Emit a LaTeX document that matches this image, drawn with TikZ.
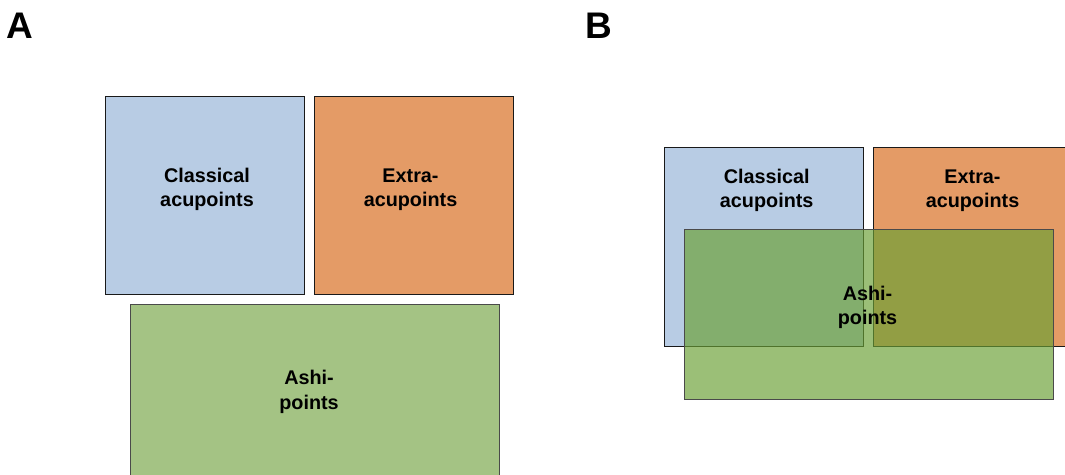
\documentclass[tikz,border=0pt]{standalone}
\usepackage{fontspec}
\setmainfont{Liberation Sans}
\begin{document}
\begin{tikzpicture}[x=1pt,y=-1pt,
  boxline/.style={draw=black!90,line width=1pt},
  lbl/.style={anchor=base,inner sep=0pt,font=\fontsize{19.8}{24}\selectfont\bfseries},
  panel/.style={anchor=base west,inner sep=0pt,font=\fontsize{37}{40}\selectfont\bfseries}]
\definecolor{cblue}{HTML}{B8CCE4}
\definecolor{corange}{HTML}{E49B66}
\definecolor{cgreen}{HTML}{A4C384}
\definecolor{cgreenB}{HTML}{6AA034}
\definecolor{gborder}{HTML}{4A4A4A}
\useasboundingbox (0,0) rectangle (1065,474);
\begin{scope}
\clip (0,0) rectangle (1065,474);
% Panel labels
\node[panel] (pa) at (6,38) {A};
\node[panel] (pb) at (585,38) {B};
% Panel A
\draw[boxline,fill=cblue] (105.5,96) rectangle (304,294.5) node[pos=0.5,inner sep=0pt] (ablue) {};
\draw[boxline,fill=corange] (314.5,96) rectangle (513,294.5) node[pos=0.5,inner sep=0pt] (aorange) {};
\draw[line width=1pt,draw=gborder,fill=cgreen] (130,304) rectangle (499,480) node[pos=0.5,inner sep=0pt] (agreen) {};
\node[lbl] (a1) at (207,182) {Classical};
\node[lbl] (a2) at (207,206.5) {acupoints};
\node[lbl] (a3) at (410.5,182) {Extra-};
\node[lbl] (a4) at (410.5,206.5) {acupoints};
\node[lbl] (a5) at (309,384.5) {Ashi-};
\node[lbl] (a6) at (309,409) {points};
% Panel B
\draw[boxline,fill=cblue] (664.5,147.5) rectangle (863,346) node[pos=0.5,inner sep=0pt] (bblue) {};
\draw[boxline,fill=corange] (873.5,147.5) rectangle (1072,346) node[pos=0.5,inner sep=0pt] (borange) {};
\node[lbl] (b1) at (766.7,183) {Classical};
\node[lbl] (b2) at (766.7,207.5) {acupoints};
\node[lbl] (b3) at (972.5,183) {Extra-};
\node[lbl] (b4) at (972.5,207.5) {acupoints};
\draw[line width=1pt,draw=gborder,fill=cgreenB,fill opacity=0.67] (684,229) rectangle (1053,399.5) node[pos=0.5,inner sep=0pt] (bgreen) {};
\node[lbl] (b5) at (867.5,300) {Ashi-};
\node[lbl] (b6) at (867.5,324) {points};
\end{scope}
\end{tikzpicture}
\end{document}
